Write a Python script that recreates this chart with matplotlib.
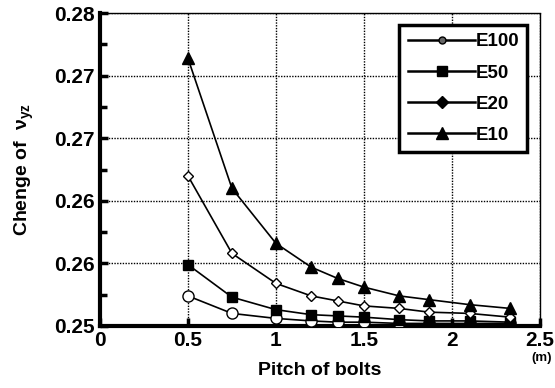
import matplotlib

matplotlib.use("Agg")
import matplotlib.pyplot as plt
from matplotlib.lines import Line2D
from matplotlib.ticker import MultipleLocator

plt.rcParams["font.family"] = ["Liberation Sans", "DejaVu Sans"]
plt.rcParams["font.weight"] = "bold"
plt.rcParams["axes.labelweight"] = "bold"
plt.rcParams["mathtext.fontset"] = "custom"
plt.rcParams["mathtext.rm"] = "Liberation Sans:bold"
plt.rcParams["mathtext.it"] = "Liberation Sans:bold"

# bolt pitch (m)
pitch = [0.5, 0.75, 1.0, 1.2, 1.35, 1.5, 1.7, 1.87, 2.1, 2.33]

e100 = [0.2524, 0.2510, 0.2506, 0.2504, 0.2503, 0.2503, 0.2502, 0.2502, 0.2502, 0.2502]
e50 = [0.2549, 0.2523, 0.2513, 0.2509, 0.2508, 0.2507, 0.2505, 0.2504, 0.2504, 0.2503]
e20 = [0.2620, 0.2558, 0.2534, 0.2524, 0.2520, 0.2516, 0.2514, 0.2511, 0.2510, 0.2507]
e10 = [0.2714, 0.2610, 0.2566, 0.2547, 0.2538, 0.2531, 0.2524, 0.2521, 0.2517, 0.2514]

series_names = ["E100", "E50", "E20", "E10"]

x_ticks = [0, 0.5, 1, 1.5, 2, 2.5]
x_tick_labels = ["0", "0.5", "1", "1.5", "2", "2.5"]
y_ticks = [0.25, 0.255, 0.26, 0.265, 0.27, 0.275]
y_tick_labels = ["0.25", "0.26", "0.26", "0.27", "0.27", "0.28"]

fig = plt.figure(figsize=(5.55, 3.88), dpi=100)
ax = fig.add_axes([0.180, 0.160, 0.793, 0.806])

ax.plot(pitch, e100, color="black", lw=1.2, marker="o", ms=8, mfc="white", mec="black", mew=1.0, zorder=3)
ax.plot(pitch, e50, color="black", lw=1.2, marker="s", ms=7.5, mfc="black", mec="black", zorder=3)
ax.plot(pitch, e20, color="black", lw=1.2, marker="D", ms=5.5, mfc="white", mec="black", mew=1.0, zorder=3)
ax.plot(pitch, e10, color="black", lw=1.2, marker="^", ms=8.5, mfc="black", mec="black", zorder=3)

ax.set_xlim(0, 2.5)
ax.set_ylim(0.25, 0.275)
ax.set_xticks(x_ticks)
ax.set_xticklabels(x_tick_labels)
ax.set_yticks(y_ticks)
ax.set_yticklabels(y_tick_labels)
ax.yaxis.set_minor_locator(MultipleLocator(0.0025))

ax.grid(True, which="major", color="black", linestyle=(0, (1.0, 1.0)), linewidth=1.0)
ax.tick_params(which="major", direction="in", length=6, width=2.5, labelsize=15, pad=4,
               top=False, right=False)
ax.tick_params(which="minor", direction="in", length=5, width=2.5, top=False, right=False)

for side in ("left", "bottom"):
    ax.spines[side].set_linewidth(3)
for side in ("top", "right"):
    ax.spines[side].set_linestyle((0, (1.0, 1.0)))
    ax.spines[side].set_linewidth(1.0)

ax.set_xlabel("Pitch of bolts", fontsize=14, labelpad=8)
ax.set_ylabel("Chenge of  ν$_{\\rm yz}$", fontsize=14, labelpad=13)
fig.text(0.975, 0.077, "(m)", fontsize=9.5, ha="center", va="center")

handles = [
    Line2D([], [], color="black", lw=1.8, marker="o", ms=5, mfc="0.4", mec="black"),
    Line2D([], [], color="black", lw=1.8, marker="s", ms=7, mfc="black", mec="black"),
    Line2D([], [], color="black", lw=1.8, marker="D", ms=6, mfc="black", mec="black"),
    Line2D([], [], color="black", lw=1.8, marker="^", ms=8, mfc="black", mec="black"),
]
leg = ax.legend(handles, series_names, loc="upper right", bbox_to_anchor=(0.98, 0.975),
                frameon=True, fancybox=False, handlelength=3.6,
                handletextpad=0.0, labelspacing=0.75, borderpad=0.45, borderaxespad=0.2,
                prop={"weight": "bold", "size": 13.5})
leg.get_frame().set_edgecolor("black")
leg.get_frame().set_linewidth(2.5)
leg.get_frame().set_alpha(1.0)

fig.savefig("out.png", dpi=100, facecolor="white")
